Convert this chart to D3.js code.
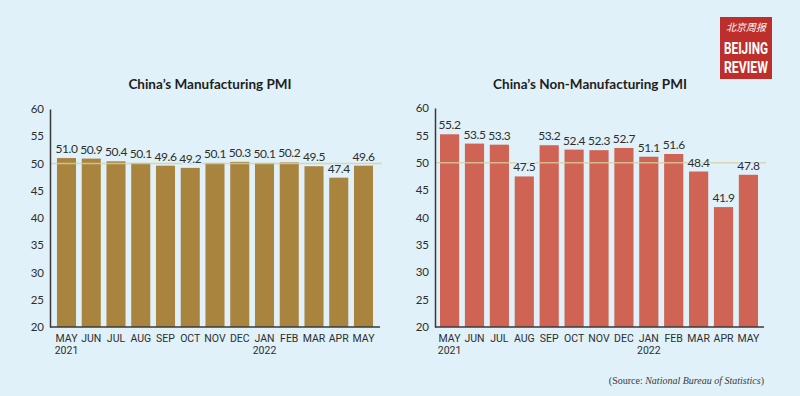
<!DOCTYPE html>
<html>
<head>
<meta charset="utf-8">
<script src="https://cdn.jsdelivr.net/npm/d3@7"></script>
<style>
  html, body { margin: 0; padding: 0; background: #e0f1f9; }
  svg { display: block; }
</style>
</head>
<body>
<svg id="chart" width="800" height="396"></svg>
<script>
// month labels (second line = year where shown)
const months = ['MAY', 'JUN', 'JUL', 'AUG', 'SEP', 'OCT', 'NOV', 'DEC', 'JAN', 'FEB', 'MAR', 'APR', 'MAY'];
const years = ['2021', '', '', '', '', '', '', '', '2022', '', '', '', ''];
const manufacturing = [51.0, 50.9, 50.4, 50.1, 49.6, 49.2, 50.1, 50.3, 50.1, 50.2, 49.5, 47.4, 49.6];
const nonManufacturing = [55.2, 53.5, 53.3, 47.5, 53.2, 52.4, 52.3, 52.7, 51.1, 51.6, 48.4, 41.9, 47.8];
const yTicks = [20, 25, 30, 35, 40, 45, 50, 55, 60];

const bg = '#e0f1f9';
const svg = d3.select('#chart');
svg.append('rect').attr('width', 800).attr('height', 396).attr('fill', bg);

function drawPanel(opt) {
    let { values, title, color, axisX, x0, x1, titleX, yTop, yBottom, lineEnd } = opt;

    let x = d3.scaleBand()
        .domain(d3.range(values.length))
        .range([x0, x1])
        .paddingInner(0.23)
        .paddingOuter(0.12);

    let y = d3.scaleLinear().domain([20, 60]).range([yBottom, yTop]);

    let g = svg.append('g');

    g.append('text')
        .attr('x', titleX).attr('y', 89)
        .attr('text-anchor', 'middle')
        .style('font-family', 'Lato, "Open Sans", sans-serif')
        .style('font-weight', 'bold')
        .style('font-size', '13.5px')
        .attr('fill', '#1e1e1e')
        .text(title);

    // bars
    g.selectAll('.bar')
        .data(values)
        .enter().append('rect')
        .attr('class', 'bar')
        .attr('x', (d, i) => x(i))
        .attr('y', d => y(d))
        .attr('width', x.bandwidth())
        .attr('height', d => y(20) - y(d))
        .attr('fill', color);

    // 50 reference line
    g.append('line')
        .attr('x1', axisX).attr('x2', lineEnd)
        .attr('y1', y(50)).attr('y2', y(50))
        .attr('stroke', '#d8cfa0')
        .attr('stroke-opacity', 0.8)
        .attr('stroke-width', 1.5);

    // value labels
    g.selectAll('.val')
        .data(values)
        .enter().append('text')
        .attr('class', 'val')
        .attr('x', (d, i) => x(i) + x.bandwidth() / 2)
        .attr('y', d => y(d) - 5)
        .attr('text-anchor', 'middle')
        .style('font-family', 'Lato, "Open Sans", sans-serif')
        .style('font-size', '12px')
        .style('letter-spacing', '-0.4px')
        .style('paint-order', 'stroke')
        .attr('stroke', bg)
        .attr('stroke-width', 2)
        .attr('fill', '#2e2e2e')
        .text(d => d.toFixed(1));

    // y axis
    let yAxis = g.append('g')
        .attr('transform', `translate(${axisX},0)`)
        .call(d3.axisLeft(y).tickValues(yTicks).tickSize(0).tickPadding(6));
    yAxis.select('.domain').attr('stroke', '#3a3a3a').attr('stroke-width', 1.5);
    yAxis.selectAll('text')
        .style('font-family', 'Lato, "Open Sans", sans-serif')
        .style('font-size', '11.5px')
        .attr('fill', '#2e2e2e');

    // x axis baseline
    g.append('line')
        .attr('x1', axisX).attr('x2', lineEnd - 2)
        .attr('y1', y(20)).attr('y2', y(20))
        .attr('stroke', '#3a3a3a').attr('stroke-width', 1.5);

    // month labels
    let lab = g.selectAll('.mon')
        .data(months)
        .enter().append('text')
        .attr('class', 'mon')
        .attr('x', (d, i) => x(i) + x.bandwidth() / 2)
        .attr('y', y(20) + 15)
        .attr('text-anchor', 'middle')
        .style('font-family', 'Roboto, sans-serif')
        .style('font-size', '10.5px')
        .attr('fill', '#2e2e2e');
    lab.append('tspan').text(d => d);
    lab.append('tspan')
        .attr('x', (d, i) => x(i) + x.bandwidth() / 2)
        .attr('dy', 12)
        .text((d, i) => years[i]);
}

drawPanel({
    values: manufacturing, title: 'China\u2019s Manufacturing PMI', color: '#a8843f',
    axisX: 50, x0: 54, x1: 376, titleX: 210, yTop: 109, yBottom: 327, lineEnd: 382
});

drawPanel({
    values: nonManufacturing, title: 'China\u2019s Non-Manufacturing PMI', color: '#d06454',
    axisX: 435, x0: 437, x1: 761, titleX: 590, yTop: 108, yBottom: 327, lineEnd: 766
});

// logo
let logo = svg.append('g').attr('transform', 'translate(720,17)');
logo.append('rect').attr('width', 52).attr('height', 62).attr('fill', '#be2f2b');
logo.append('text')
    .attr('x', 26).attr('y', 14).attr('text-anchor', 'middle')
    .style('font-family', '"Noto Sans CJK SC", sans-serif')
    .style('font-size', '10px').style('font-style', 'italic')
    .attr('fill', '#fff').text('北京周报');
['BEIJING', 'REVIEW'].forEach((t, i) => {
    logo.append('text')
        .attr('x', 4).attr('y', 37 + i * 19)
        .style('font-family', 'Roboto, sans-serif')
        .style('font-weight', 'bold').style('font-size', '17px')
        .attr('textLength', 44).attr('lengthAdjust', 'spacingAndGlyphs')
        .attr('fill', '#fff').text(t);
});

// source note
let src = svg.append('text')
    .attr('x', 764).attr('y', 384).attr('text-anchor', 'end')
    .style('font-family', '"Liberation Serif", serif')
    .style('font-size', '10px')
    .attr('fill', '#3a3a3a');
src.append('tspan').text('(Source: ');
src.append('tspan').style('font-style', 'italic').text('National Bureau of Statistics');
src.append('tspan').text(')');
</script>
</body>
</html>
